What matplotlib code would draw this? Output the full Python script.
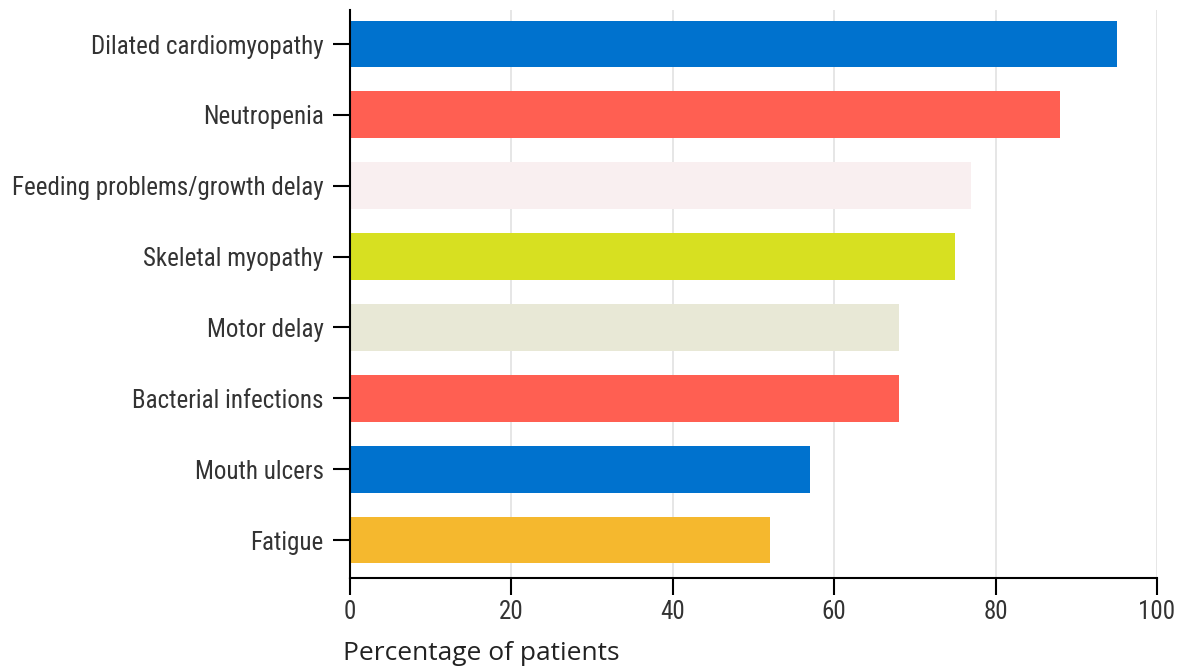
import matplotlib
matplotlib.use("Agg")
import matplotlib.pyplot as plt
from matplotlib import font_manager

# --- data ---
conditions = [
    "Dilated cardiomyopathy",
    "Neutropenia",
    "Feeding problems/growth delay",
    "Skeletal myopathy",
    "Motor delay",
    "Bacterial infections",
    "Mouth ulcers",
    "Fatigue",
]
percent = [95, 88, 77, 75, 68, 68, 57, 52]
bar_colors = ["#0072CE", "#FF5F52", "#F9EFF0", "#D7E021",
              "#E8E8D6", "#FF5F52", "#0072CE", "#F5B82E"]
xticks = [0, 20, 40, 60, 80, 100]

# pick a condensed face if one is around, else plain Roboto
names = {f.name for f in font_manager.fontManager.ttflist}
cond_font, label_size = "Roboto", 16
for name, size in [("Roboto Condensed", 18), ("DejaVu Sans Condensed", 16),
                   ("Liberation Sans Narrow", 18)]:
    if name in names:
        cond_font, label_size = name, size
        break

fig = plt.figure(figsize=(11.79, 6.69), dpi=100)
ax = fig.add_axes([350 / 1179, 1 - 578 / 669, (1157 - 350) / 1179, (578 - 10) / 669])

ypos = list(range(len(conditions)))
ax.barh(ypos, percent, height=0.66, color=bar_colors, zorder=2)

ax.set_xlim(0, 100)
ax.set_ylim(7.536, -0.48)
ax.set_xticks(xticks)
ax.set_yticks(ypos)
ax.set_yticklabels(conditions, fontname=cond_font, fontsize=label_size, color="#333333")
ax.set_xticklabels([str(t) for t in xticks], fontname=cond_font, fontsize=label_size, color="#333333")
ax.tick_params(axis="both", length=12, width=1.5, color="black")
ax.tick_params(axis="y", pad=7)
ax.tick_params(axis="x", pad=4)

ax.grid(axis="x", color="#e2e2e2", linewidth=1.2, zorder=0)
ax.set_axisbelow(True)
for s in ["top", "right"]:
    ax.spines[s].set_visible(False)
for s in ["left", "bottom"]:
    ax.spines[s].set_linewidth(1.5)
    ax.spines[s].set_color("black")

fig.text(343 / 1179, 1 - 653 / 669, "Percentage of patients", fontname="Open Sans",
         fontsize=19, color="#222222", va="center", ha="left")

fig.savefig("out.png", dpi=100)
